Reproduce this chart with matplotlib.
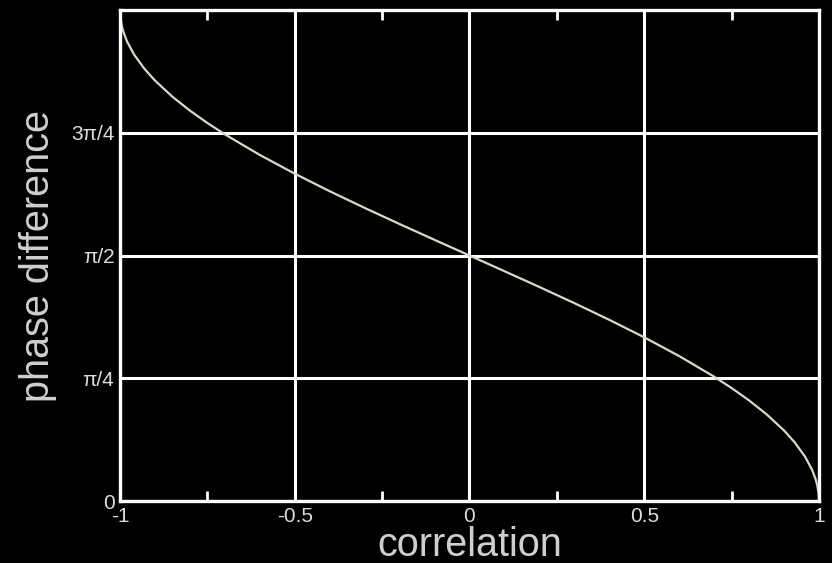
import numpy as np
import matplotlib
matplotlib.use("Agg")
import matplotlib.pyplot as plt
from matplotlib.ticker import FixedLocator

# correlation vs. phase difference (radians)
correlation = [-1.0, -0.999, -0.995, -0.99, -0.98, -0.96, -0.93, -0.9, -0.85,
               -0.8, -0.75, -0.7, -0.6, -0.5, -0.4, -0.3, -0.2, -0.1, 0.0,
               0.1, 0.2, 0.3, 0.4, 0.5, 0.6, 0.7, 0.75, 0.8, 0.85, 0.9,
               0.93, 0.96, 0.98, 0.99, 0.995, 0.999, 1.0]
phase_diff = [3.1416, 3.0969, 3.0414, 3.0001, 2.9413, 2.8578, 2.7655, 2.6906, 2.5868,
              2.4981, 2.4189, 2.3462, 2.2143, 2.0944, 1.9823, 1.8755, 1.7722, 1.6710, 1.5708,
              1.4706, 1.3694, 1.2661, 1.1593, 1.0472, 0.9273, 0.7954, 0.7227, 0.6435, 0.5548, 0.4510,
              0.3761, 0.2838, 0.2003, 0.1415, 0.1002, 0.0447, 0.0]

x_ticks = [-1, -0.5, 0, 0.5, 1]
x_ticklabels = ["-1", "-0.5", "0", "0.5", "1"]
x_minor = [-0.75, -0.25, 0.25, 0.75]
y_ticks = [0, np.pi / 4, np.pi / 2, 3 * np.pi / 4]
y_ticklabels = ["0", "\u03c0/4", "\u03c0/2", "3\u03c0/4"]

plt.rcParams["font.family"] = ["Liberation Sans", "DejaVu Sans"]

fg = "#ffffff"
txt = "#dcdcd8"

fig = plt.figure(figsize=(8.32, 5.63), dpi=100, facecolor="black")
ax = fig.add_axes([0.1442, 0.1101, 0.8402, 0.8721], facecolor="black")

ax.plot(correlation, phase_diff, color="#d9d9c6", linewidth=1.6)

ax.set_xlim(-1, 1)
ax.set_ylim(0, np.pi)
ax.set_xticks(x_ticks)
ax.set_xticklabels(x_ticklabels)
ax.xaxis.set_minor_locator(FixedLocator(x_minor))
ax.set_yticks(y_ticks)
ax.set_yticklabels(y_ticklabels)

ax.grid(True, which="major", color=fg, linewidth=2.2)
for side in ax.spines.values():
    side.set_color(fg)
    side.set_linewidth(2.4)

ax.tick_params(which="both", direction="in", colors=fg, top=True, right=True,
               width=2, labelcolor=txt, labelsize=15)
ax.tick_params(which="major", length=0, pad=4)
ax.tick_params(which="minor", length=7)

ax.set_xlabel("correlation", color="#cfcfcf", fontsize=28.5, labelpad=0)
ax.set_ylabel("phase difference", color="#cfcfcf", fontsize=28.5, labelpad=10)

fig.savefig("out.png", dpi=100, facecolor="black")
